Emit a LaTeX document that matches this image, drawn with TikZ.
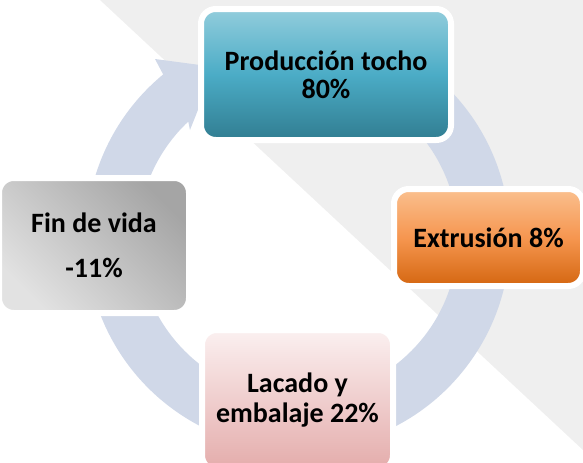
\documentclass[tikz,border=0pt]{standalone}
\usepackage{fontspec}
\setmainfont{Carlito}
\usepackage{xcolor}
\definecolor{ringblue}{RGB}{208,216,232}
\definecolor{backgray}{RGB}{239,239,239}
\definecolor{tochoTop}{RGB}{146,205,220}
\definecolor{tochoMid}{RGB}{75,172,198}
\definecolor{tochoBot}{RGB}{49,125,145}
\definecolor{extrTop}{RGB}{250,192,143}
\definecolor{extrMid}{RGB}{246,150,80}
\definecolor{extrBot}{RGB}{212,102,16}
\definecolor{lacaTop}{RGB}{251,240,240}
\definecolor{lacaBot}{RGB}{228,172,171}
\definecolor{finDark}{RGB}{165,165,165}
\definecolor{finLight}{RGB}{226,226,226}

\begin{document}
\begin{tikzpicture}[x=0.75pt,y=0.75pt,
  stage/.style={draw=white,line width=4.5pt,rounded corners=11pt,align=center,inner sep=0pt,
    font=\bfseries\fontsize{21}{21}\selectfont}]
\useasboundingbox (0,0) rectangle (583,462);
\clip (0,0) rectangle (583,462);

\fill[backgray] (100,462) -- (583,462) -- (583,12) -- cycle;

\coordinate (mid) at (298,224);
\fill[ringblue] (mid) ++(52:212) arc[start angle=52,end angle=-230.5,radius=212]
  -- (155,403) -- (215,395) -- (190,332)
  -- ([shift={(133.3:160)}]mid) arc[start angle=-226.7,end angle=52,radius=160] -- cycle;

\node[stage,top color=tochoTop,bottom color=tochoBot,middle color=tochoMid,
  minimum width=187.5pt,minimum height=98.25pt] (tocho) at (326,387.5) {Producción tocho\\80\%};

\node[stage,top color=extrTop,bottom color=extrBot,middle color=extrMid,
  minimum width=141.75pt,minimum height=72.75pt] (extrusion) at (488.5,224.5) {Extrusión 8\%};

\node[stage,top color=lacaTop,bottom color=lacaBot,
  font=\bfseries\fontsize{21}{22.5}\selectfont,
  minimum width=143.25pt,minimum height=105pt] (lacado) at (297.5,62) {Lacado y\\embalaje 22\%};

\node[stage,top color=finDark,bottom color=finLight,shading angle=-45,
  font=\bfseries\fontsize{21}{33.75}\selectfont,
  minimum width=142.5pt,minimum height=101.25pt] (fin) at (94,216.5) {Fin de vida\\-11\%};
\end{tikzpicture}
\end{document}
